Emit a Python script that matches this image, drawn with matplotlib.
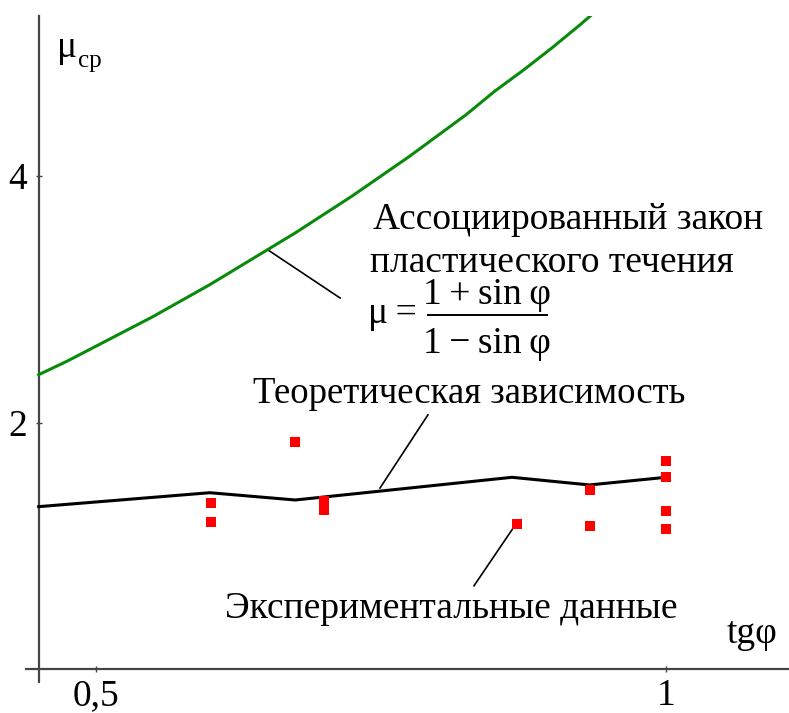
import matplotlib
matplotlib.use("Agg")
import matplotlib.pyplot as plt

plt.rcParams['font.family'] = ['Liberation Serif', 'DejaVu Serif']

# Associated flow rule curve, mu = (1 + sin phi) / (1 - sin phi)
tg_assoc = [0.45, 0.475, 0.50, 0.525, 0.55, 0.575, 0.60, 0.625, 0.65, 0.675,
            0.70, 0.725, 0.75, 0.775, 0.80, 0.825, 0.85, 0.875, 0.90, 0.925, 0.95]
mu_assoc = [2.39, 2.50, 2.62, 2.74, 2.86, 2.99, 3.12, 3.26, 3.40, 3.54,
            3.69, 3.84, 4.00, 4.16, 4.33, 4.50, 4.69, 4.86, 5.04, 5.23, 5.43]

# Theoretical dependence
tg_theory = [0.45, 0.60, 0.675, 0.865, 0.933, 1.0]
mu_theory = [1.32, 1.433, 1.374, 1.558, 1.496, 1.558]

# Experimental data
tg_exp = [0.601, 0.601, 0.675, 0.70, 0.70, 0.869, 0.933, 0.933, 1.0, 1.0, 1.0, 1.0]
mu_exp = [1.35, 1.195, 1.845, 1.362, 1.293, 1.179, 1.459, 1.163, 1.69, 1.56, 1.285, 1.139]

x_ticks = [0.5, 1.0]
x_tick_labels = ["0,5", "1"]
y_ticks = [2, 4]
y_tick_labels = ["2", "4"]

FS = 27
axis_color = "#454545"

fig = plt.figure(figsize=(7.89, 7.13), dpi=100)
ax = fig.add_axes([26 / 789, 31 / 713, 1 - 26 / 789, (682 - 16) / 713])
ax.set_xlim(0.4389, 1.1079)
ax.set_ylim(-0.102, 5.299)

for s in ("top", "right"):
    ax.spines[s].set_visible(False)
ax.spines["left"].set_position(("data", 0.45))
ax.spines["bottom"].set_position(("data", 0))
for s in ("left", "bottom"):
    ax.spines[s].set_color(axis_color)
    ax.spines[s].set_linewidth(1.6)

ax.set_xticks(x_ticks)
ax.set_xticklabels(x_tick_labels)
ax.set_yticks(y_ticks)
ax.set_yticklabels(y_tick_labels)
ax.tick_params(axis="both", direction="inout", length=5, width=1,
               color=axis_color, labelsize=FS, labelcolor="black")
ax.tick_params(axis="y", pad=6)
ax.tick_params(axis="x", pad=4)

ax.plot(tg_assoc, mu_assoc, color="#0a8a0a", lw=2.2, solid_joinstyle="round",
        zorder=3)
ax.plot(tg_theory, mu_theory, color="black", lw=2.2, solid_joinstyle="round",
        zorder=3)
ax.plot(tg_exp, mu_exp, linestyle="none", marker="s", markersize=6.6,
        color="#ff0000", markeredgewidth=0, zorder=4)

# Axis titles
ax.text(0.4661, 4.967, "μ", fontsize=FS, va="baseline", ha="left")
ax.text(0.4845, 4.886, "ср", fontsize=18, va="baseline", ha="left")
ax.text(1.0533, 0.214, "tgφ", fontsize=FS, va="baseline", ha="left")

# Annotations
ax.text(0.7431, 3.572, "Ассоциированный закон", fontsize=FS, va="baseline", ha="left")
ax.text(0.7405, 3.223, "пластического течения", fontsize=FS, va="baseline", ha="left")
ax.text(0.7387, 2.808, "μ\u2009=", fontsize=FS, va="baseline", ha="left")
ax.text(0.8431, 2.960, "1\u2009+\u2009sin\u2009φ", fontsize=FS, va="baseline", ha="center")
ax.text(0.8431, 2.566, "1\u2009−\u2009sin\u2009φ", fontsize=FS, va="baseline", ha="center")
ax.plot([0.7917, 0.8960], [2.874, 2.874], color="black", lw=1.4)
ax.plot([0.6512, 0.7143], [3.401, 3.012], color="black", lw=1.2)

ax.text(0.638, 2.161, "Теоретическая зависимость", fontsize=26.5, va="baseline", ha="left")
ax.plot([0.7913, 0.7493], [2.064, 1.471], color="black", lw=1.2)

ax.text(0.6134, 0.417, "Экспериментальные данные", fontsize=FS, va="baseline", ha="left")
ax.plot([0.8685, 0.8317], [1.180, 0.678], color="black", lw=1.2)

fig.savefig("out.png", dpi=100)
